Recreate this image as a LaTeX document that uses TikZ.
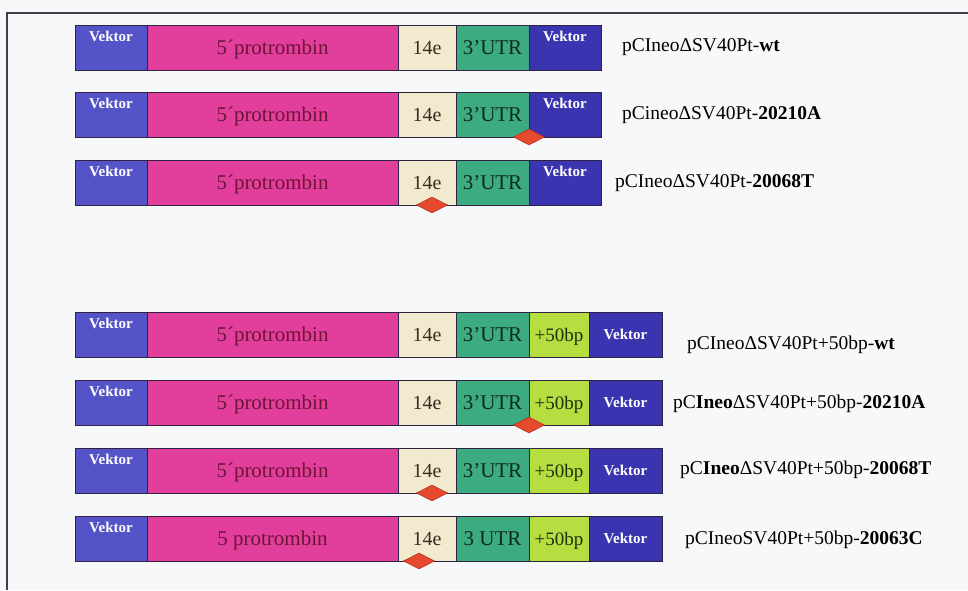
\documentclass[tikz,border=0pt]{standalone}
\usepackage{fontspec}
\setmainfont{Liberation Serif}
\usetikzlibrary{shapes.geometric}
\definecolor{bgc}{HTML}{F7F8FA}
\definecolor{framec}{HTML}{4A3A50}
\definecolor{segline}{HTML}{2E2440}
\definecolor{vekL}{HTML}{5454C8}
\definecolor{vekR}{HTML}{3A34B0}
\definecolor{prot}{HTML}{E23E9C}
\definecolor{protT}{HTML}{6E1437}
\definecolor{exon}{HTML}{F2EACE}
\definecolor{exonT}{HTML}{3A2A22}
\definecolor{utr}{HTML}{3CAC80}
\definecolor{utrT}{HTML}{0E2A20}
\definecolor{bp}{HTML}{B6DE40}
\definecolor{bpT}{HTML}{1E3010}
\definecolor{dia}{HTML}{E5492E}
\definecolor{diaL}{HTML}{B8301E}
\tikzset{
  seg/.style={draw=segline, line width=0.8pt, anchor=north west, minimum height=45pt,
    inner sep=0pt, outer sep=0pt, text depth=0pt, font=\fontsize{21}{23}\selectfont},
  vtxt/.style={anchor=north, inner sep=0pt, yshift=-6pt, text=white,
    font=\bfseries\fontsize{15}{16}\selectfont},
  vmid/.style={text=white, font=\bfseries\fontsize{15}{16}\selectfont},
  lbl/.style={anchor=west, inner sep=0pt, text=black, font=\fontsize{19.5}{21}\selectfont},
  mut/.style={diamond, aspect=2, minimum width=31pt, minimum height=16pt, inner sep=0pt,
    fill=dia, draw=diaL, line width=0.6pt},
  frameln/.style={draw=framec, line width=1.3pt}
}
\newcommand\shortbar[4]{%
  \node[seg,fill=vekL,minimum width=72pt] (#1a) at (75,#2) {};
  \node[vtxt] (#1at) at (#1a.north) {Vektor};
  \node[seg,fill=prot,minimum width=251pt,text=protT] (#1b) at (#1a.north east) {#3};
  \node[seg,fill=exon,minimum width=58pt,text=exonT,font=\fontsize{20}{22}\selectfont] (#1c) at (#1b.north east) {14e};
  \node[seg,fill=utr,minimum width=73pt,text=utrT] (#1d) at (#1c.north east) {#4};
  \node[seg,fill=vekR,minimum width=72pt] (#1e) at (#1d.north east) {};
  \node[vtxt] (#1et) at (#1e.north) {Vektor};
}
\newcommand\longbar[4]{%
  \node[seg,fill=vekL,minimum width=72pt] (#1a) at (75,#2) {};
  \node[vtxt] (#1at) at (#1a.north) {Vektor};
  \node[seg,fill=prot,minimum width=251pt,text=protT] (#1b) at (#1a.north east) {#3};
  \node[seg,fill=exon,minimum width=58pt,text=exonT,font=\fontsize{20}{22}\selectfont] (#1c) at (#1b.north east) {14e};
  \node[seg,fill=utr,minimum width=73pt,text=utrT] (#1d) at (#1c.north east) {#4};
  \node[seg,fill=bp,minimum width=60pt,text=bpT,font=\fontsize{19}{21}\selectfont] (#1e) at (#1d.north east) {+50bp};
  \node[seg,fill=vekR,minimum width=73pt,vmid] (#1f) at (#1e.north east) {Vektor};
}
\begin{document}
\begin{tikzpicture}[x=1pt,y=-1pt]
\useasboundingbox[fill=bgc] (0,0) rectangle (968,590);
\draw[frameln] (7,590) -- (7,13) -- (968,13);

\shortbar{r1}{25}{5´protrombin}{3’UTR}
\shortbar{r2}{92}{5´protrombin}{3’UTR}
\shortbar{r3}{160}{5´protrombin}{3’UTR}

\longbar{r4}{312}{5´protrombin}{3’UTR}
\longbar{r5}{380}{5´protrombin}{3’UTR}
\longbar{r6}{448}{5´protrombin}{3’UTR}
\longbar{r7}{516}{5 protrombin}{3 UTR}

% mutation markers
\node[mut] (m2) at (r2d.south east) {};
\node[mut] (m3) at ([xshift=34pt]r3c.south west) {};
\node[mut] (m5) at (r5d.south east) {};
\node[mut] (m6) at ([xshift=34pt]r6c.south west) {};
\node[mut] (m7) at ([xshift=21pt]r7c.south west) {};

% construct names
\node[lbl] (l1) at (622,47) {pCIneoΔSV40Pt-\textbf{wt}};
\node[lbl] (l2) at (622,115) {pCineoΔSV40Pt-\textbf{20210A}};
\node[lbl] (l3) at (615,183) {pCIneoΔSV40Pt-\textbf{20068T}};
\node[lbl] (l4) at (687,345) {pCIneoΔSV40Pt+50bp-\textbf{wt}};
\node[lbl] (l5) at (673,404) {pC\textbf{Ineo}ΔSV40Pt+50bp-\textbf{20210A}};
\node[lbl] (l6) at (680,470) {pC\textbf{Ineo}ΔSV40Pt+50bp-\textbf{20068T}};
\node[lbl] (l7) at (685,540) {pCIneoSV40Pt+50bp-\textbf{20063C}};
\end{tikzpicture}
\end{document}
